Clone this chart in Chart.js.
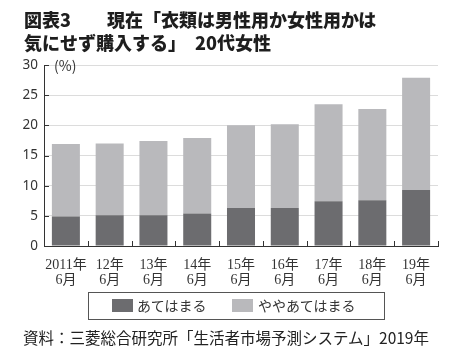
<!DOCTYPE html>
<html>
<head>
<meta charset="utf-8">
<script src="https://cdn.jsdelivr.net/npm/chart.js@4"></script>
<style>
    body { margin: 0; background: #fff; font-family: "Noto Sans CJK JP", sans-serif; color: #222; }
    #wrap { position: relative; width: 450px; height: 347px; overflow: hidden; }
    #chart { position: absolute; left: 0; top: 0; }
    .title { position: absolute; left: 24px; top: 8px; font-size: 18px; line-height: 23px; font-weight: 900; white-space: pre; color: #1e1e1e; }
    .unit { position: absolute; left: 54px; top: 56px; font-size: 14px; line-height: 18px; color: #333; }
    #legend { position: absolute; left: 88px; top: 292px; width: 295px; height: 26px; border: 1px solid #555; }
    .swatch { position: absolute; top: 6px; width: 21px; height: 13px; }
    .ltext { position: absolute; top: 3px; font-size: 14px; line-height: 18px; color: #333; white-space: nowrap; }
    .source { position: absolute; left: 23px; top: 327px; font-size: 15.5px; line-height: 20px; color: #222; white-space: nowrap; }
</style>
</head>
<body>
<div id="wrap">
    <canvas id="chart" width="450" height="347"></canvas>
    <div class="title">図表3　　現在「衣類は男性用か女性用かは
気にせず購入する」　20代女性</div>
    <div class="unit">(%)</div>
    <div id="legend"></div>
    <div class="source">資料：三菱総合研究所「生活者市場予測システム」2019年</div>
</div>
<script>
// Chart data
const yearLabels = ['2011年', '12年', '13年', '14年', '15年', '16年', '17年', '18年', '19年'];
const monthLabels = ['6月', '6月', '6月', '6月', '6月', '6月', '6月', '6月', '6月'];
const seriesNames = ['あてはまる', 'ややあてはまる'];
const applies = [4.9, 5.1, 5.1, 5.4, 6.3, 6.3, 7.4, 7.6, 9.3];
const somewhatApplies = [12.0, 11.9, 12.3, 12.5, 13.7, 13.9, 16.1, 15.1, 18.6];
const yTicks = [0, 5, 10, 15, 20, 25, 30];

const seriesColors = ['#6c6c6f', '#b9b9bc'];

// Short inward tick marks on both axes
const innerTicks = {
    id: 'innerTicks',
    afterDatasetsDraw(chart) {
        const ctx = chart.ctx;
        const x = chart.scales.x;
        const y = chart.scales.y;
        const area = chart.chartArea;
        ctx.save();
        ctx.strokeStyle = '#333';
        ctx.lineWidth = 1;
        ctx.beginPath();
        yTicks.forEach(v => {
            const py = Math.round(y.getPixelForValue(v)) + 0.5;
            ctx.moveTo(area.left, py);
            ctx.lineTo(area.left + 5, py);
        });
        const step = (area.right - area.left) / yearLabels.length;
        for (let i = 1; i <= yearLabels.length; i++) {
            const px = Math.round(x.getPixelForValue(i - 1) + step / 2) + 0.5;
            ctx.moveTo(px, area.bottom);
            ctx.lineTo(px, area.bottom - 5);
        }
        ctx.stroke();
        ctx.restore();
    }
};

const ctx = document.getElementById('chart').getContext('2d');
const chart = new Chart(ctx, {
    type: 'bar',
    data: {
        labels: yearLabels.map((y, i) => [y, monthLabels[i]]),
        datasets: [
            { label: seriesNames[0], data: applies, backgroundColor: seriesColors[0] },
            { label: seriesNames[1], data: somewhatApplies, backgroundColor: seriesColors[1] }
        ]
    },
    options: {
        responsive: false,
        animation: false,
        devicePixelRatio: 1,
        layout: { padding: { top: 65, left: 0, right: 12, bottom: 61 } },
        datasets: { bar: { categoryPercentage: 1, barPercentage: 0.64 } },
        plugins: { legend: { display: false }, tooltip: { enabled: false } },
        scales: {
            x: {
                stacked: true,
                grid: { display: false },
                border: { color: '#333', width: 1 },
                ticks: {
                    color: '#333',
                    padding: 4,
                    maxRotation: 0,
                    autoSkip: false,
                    font: { family: '"Liberation Serif", "Noto Sans CJK JP"', size: 14, lineHeight: 1.08 }
                },
                afterFit(s) { s.height = 40; }
            },
            y: {
                stacked: true,
                min: 0,
                max: 30,
                ticks: {
                    stepSize: 5,
                    color: '#333',
                    padding: 6,
                    font: { family: '"Noto Sans", sans-serif', size: 13.5 }
                },
                grid: { color: '#dcdcdc', drawTicks: false },
                border: { color: '#333', width: 1 },
                afterFit(s) { s.width = 44; }
            }
        }
    },
    plugins: [innerTicks]
});

// Legend built from the datasets
const legend = document.getElementById('legend');
const legendPos = [{ sw: 23, tx: 48 }, { sw: 143, tx: 169 }];
chart.data.datasets.forEach((ds, i) => {
    const sw = document.createElement('div');
    sw.className = 'swatch';
    sw.style.left = legendPos[i].sw + 'px';
    sw.style.background = ds.backgroundColor;
    legend.appendChild(sw);
    const t = document.createElement('div');
    t.className = 'ltext';
    t.style.left = legendPos[i].tx + 'px';
    t.textContent = ds.label;
    legend.appendChild(t);
});
</script>
</body>
</html>
